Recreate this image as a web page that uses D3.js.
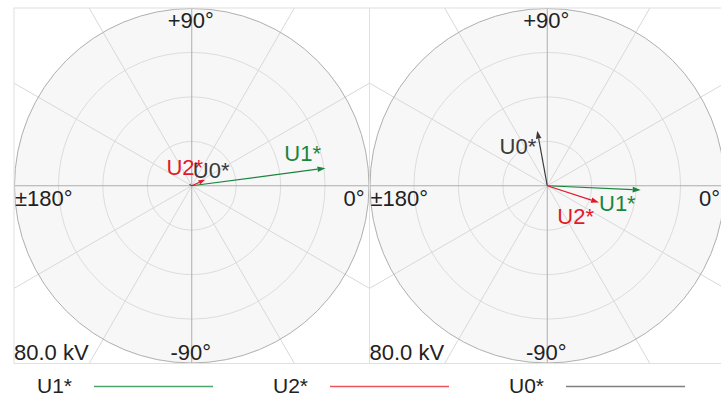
<!DOCTYPE html>
<html><head><meta charset="utf-8">
<script src="https://cdn.jsdelivr.net/npm/d3@7"></script>
<style>
html,body{margin:0;padding:0;background:#fff;}
svg{display:block;font-family:"Liberation Sans",Arial,sans-serif;}
</style></head>
<body>
<svg id="c" width="721" height="401"></svg>
<script>
// ---- data ----
const seriesNames = ["U1*", "U2*", "U0*"];
const seriesColors = ["#1b8540", "#e3192b", "#3a3a3a"];
const legendLineColors = ["#4aa66a", "#ec5560", "#808080"];
// chart 1 (left): magnitudes in kV, angles in degrees
const leftMagnitudes = [60.7, 6.6, 1.5];
const leftAngles = [7.5, 24, 150];
// chart 2 (right)
const rightMagnitudes = [42.1, 24.5, 25.2];
const rightAngles = [-2.6, -18, 100.3];
const radialMax = 80;
const ringValues = [20, 40, 60, 80];
const spokeAngles = d3.range(0, 360, 30);
const angleLabels = ["+90°", "-90°", "±180°", "0°"];
const scaleLabel = "80.0 kV";

// ---- layout (not data) ----
const boxTop = 8, boxSize = 355.5;
const boxLefts = [14, 369.5];
// label offsets from arrow tip [dx, dy, anchor]
const labelOffsets = [
  [[-4.5, -7, "end"], [-2, -4.5, "end"], [4, -6, "start"]],
  [[-5, 21, "end"], [-5, 21, "end"], [-1, 23, "end"]]
];

const svg = d3.select("#c");
const charts = [
  {mags: leftMagnitudes, angs: leftAngles},
  {mags: rightMagnitudes, angs: rightAngles}
];
const defs = svg.append("defs");
const rScale = d3.scaleLinear().domain([0, radialMax]).range([0, boxSize / 2]);

charts.forEach((ch, ci) => {
  const x0 = boxLefts[ci];
  const cx = x0 + boxSize / 2, cy = boxTop + boxSize / 2;
  defs.append("clipPath").attr("id", "clip" + ci)
    .append("rect").attr("x", x0).attr("y", boxTop).attr("width", boxSize).attr("height", boxSize);
  const g = svg.append("g");
  const inner = g.append("g").attr("clip-path", `url(#clip${ci})`);
  inner.append("circle").attr("cx", cx).attr("cy", cy).attr("r", rScale(radialMax)).attr("fill", "#f7f7f7");
  inner.selectAll("circle.ring").data(ringValues.slice(0, -1)).join("circle").attr("class", "ring")
    .attr("cx", cx).attr("cy", cy).attr("r", d => rScale(d))
    .attr("fill", "none").attr("stroke", "#dcdcdc").attr("stroke-width", 1);
  inner.selectAll("line.spoke").data(spokeAngles).join("line").attr("class", "spoke")
    .attr("x1", cx).attr("y1", cy)
    .attr("x2", d => cx + 400 * Math.cos(d * Math.PI / 180))
    .attr("y2", d => cy - 400 * Math.sin(d * Math.PI / 180))
    .attr("stroke", d => d % 90 === 0 ? "#adadad" : "#d8d8d8")
    .attr("stroke-width", 1);
  inner.append("circle").attr("cx", cx).attr("cy", cy).attr("r", rScale(radialMax) - 0.5)
    .attr("fill", "none").attr("stroke", "#b0b0b0").attr("stroke-width", 1);
  g.append("rect").attr("x", x0).attr("y", boxTop).attr("width", boxSize).attr("height", boxSize)
    .attr("fill", "none").attr("stroke", "#e0e0e0").attr("stroke-width", 1);
  const lab = g.append("g").attr("font-size", 22).attr("fill", "#222");
  lab.append("text").attr("x", cx - 1).attr("y", boxTop + 20).attr("text-anchor", "middle").text(angleLabels[0]);
  lab.append("text").attr("x", cx - 1).attr("y", boxTop + boxSize - 4).attr("text-anchor", "middle").text(angleLabels[1]);
  lab.append("text").attr("x", x0 + 1).attr("y", cy + 20.5).attr("text-anchor", "start").text(angleLabels[2]);
  lab.append("text").attr("x", x0 + boxSize - 5).attr("y", cy + 20.5).attr("text-anchor", "end").text(angleLabels[3]);
  lab.append("text").attr("x", x0).attr("y", boxTop + boxSize - 4).attr("text-anchor", "start").text(scaleLabel);
  // vectors
  const vec = seriesNames.map((n, i) => {
    const a = ch.angs[i] * Math.PI / 180, r = rScale(ch.mags[i]);
    const hl = Math.min(8, r * 0.45), hw = hl * 0.35;
    const ux = Math.cos(a), uy = -Math.sin(a);
    const tx = cx + r * ux, ty = cy + r * uy;
    const bx = tx - hl * ux, by = ty - hl * uy;
    return {i, name: n, x: tx, y: ty, bx, by,
      head: [[tx, ty], [bx - hw * uy, by + hw * ux], [bx + hw * uy, by - hw * ux]]};
  });
  g.selectAll("line.vec").data(vec).join("line").attr("class", "vec")
    .attr("x1", cx).attr("y1", cy).attr("x2", d => d.bx).attr("y2", d => d.by)
    .attr("stroke", d => seriesColors[d.i]).attr("stroke-width", 1.2);
  g.selectAll("path.head").data(vec).join("path").attr("class", "head")
    .attr("d", d => "M" + d.head.map(p => p.join(",")).join("L") + "Z")
    .attr("fill", d => seriesColors[d.i]);
  g.selectAll("text.vl").data(vec).join("text").attr("class", "vl")
    .attr("x", d => d.x + labelOffsets[ci][d.i][0])
    .attr("y", d => d.y + labelOffsets[ci][d.i][1])
    .attr("text-anchor", d => labelOffsets[ci][d.i][2])
    .attr("font-size", 22)
    .attr("fill", d => seriesColors[d.i])
    .text(d => d.name);
});

// legend
const legX = d3.scalePoint().domain(seriesNames).range([37, 509]);
const leg = svg.append("g").selectAll("g").data(seriesNames).join("g")
  .attr("transform", d => `translate(${legX(d)},0)`);
leg.append("text").attr("x", 0).attr("y", 393).attr("font-size", 21).attr("fill", "#222").text(d => d);
leg.append("line").attr("x1", 57).attr("x2", 176).attr("y1", 386.5).attr("y2", 386.5)
  .attr("stroke", (d, i) => legendLineColors[i]).attr("stroke-width", 1.3);
</script>
</body></html>
